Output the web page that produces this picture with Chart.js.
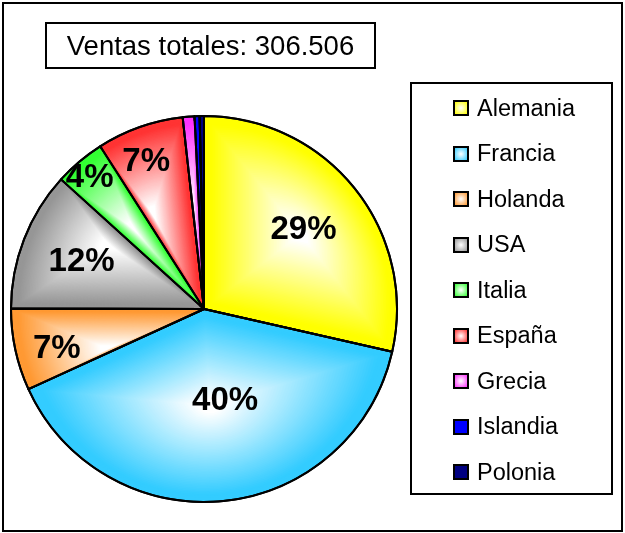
<!DOCTYPE html>
<html>
<head>
<meta charset="utf-8">
<script src="https://cdn.jsdelivr.net/npm/chart.js@4/dist/chart.umd.min.js"></script>
<style>
    body { margin: 0; background: #fff; font-family: "Liberation Sans", Arial, sans-serif; }
    #wrap { position: relative; width: 625px; height: 533px; overflow: hidden; }
    #frame { position: absolute; left: 2px; top: 2px; width: 621px; height: 530px; box-sizing: border-box; border: 2px solid #000; }
    #pie { position: absolute; left: 0; top: 0; }
    #title { position: absolute; left: 45px; top: 22px; width: 331px; height: 47px; box-sizing: border-box; border: 2px solid #000;
             display: flex; align-items: center; justify-content: center; font-size: 27.5px; color: #000; }
    #legend { position: absolute; left: 410px; top: 82px; width: 203px; height: 413px; box-sizing: border-box; border: 2px solid #000; }
    .item { position: absolute; left: 41px; height: 26px; display: flex; align-items: center; font-size: 23.5px; color: #000; }
    .swatch { width: 16px; height: 16px; box-sizing: border-box; border: 2px solid #000; margin-right: 8px; }
</style>
</head>
<body>
<div id="wrap">
    <div id="frame"></div>
    <canvas id="pie" width="625" height="533"></canvas>
    <div id="title"></div>
    <div id="legend"></div>
</div>
<script>
// ventas por pais
const paises = ['Alemania', 'Francia', 'Holanda', 'USA', 'Italia', 'España', 'Grecia', 'Islandia', 'Polonia'];
const ventas = [87500, 121500, 21000, 35800, 13000, 22300, 3000, 1300, 1106];
const colores = ['#ffff00', '#33ccff', '#ff9933', '#969696', '#33ff33', '#ff3333', '#ff33ff', '#0000ff', '#000080'];
const degradado = [true, true, true, true, true, true, true, false, false];

const total = ventas.reduce((a, b) => a + b, 0);

// donde va cada etiqueta: fraccion del radio y desplazamiento de angulo (grados)
const labelPos = [[0.66, 0], [0.49, -7], [0.79, -3], [0.68, 0], [0.9, -1], [0.82, -2]];

document.getElementById('title').textContent = 'Ventas totales: ' + total.toLocaleString('es-ES').replace(/\s/g, '.');

// leyenda
const legend = document.getElementById('legend');
paises.forEach((p, i) => {
    const bg = degradado[i] ? `radial-gradient(circle, #fff 0%, ${colores[i]} 100%)` : colores[i];
    legend.insertAdjacentHTML('beforeend',
        `<div class="item" style="top:${107 - 82 - 14 + i * 45.5}px"><div class="swatch" style="background:${bg}"></div>${p}</div>`);
});

function hexRgb(h) {
    const n = parseInt(h.slice(1), 16);
    return [(n >> 16) & 255, (n >> 8) & 255, n & 255];
}

function slicePath(ctx, a) {
    ctx.beginPath();
    ctx.moveTo(a.x, a.y);
    ctx.arc(a.x, a.y, a.outerRadius, a.startAngle, a.endAngle);
    ctx.closePath();
}

function sliceBoxCenter(a) {
    const pts = [[a.x, a.y]];
    const add = t => pts.push([a.x + a.outerRadius * Math.cos(t), a.y + a.outerRadius * Math.sin(t)]);
    add(a.startAngle);
    add(a.endAngle);
    for (let k = -4; k <= 8; k++) {
        const t = k * Math.PI / 2;
        if (t > a.startAngle && t < a.endAngle) add(t);
    }
    const xs = pts.map(p => p[0]), ys = pts.map(p => p[1]);
    return [(Math.min(...xs) + Math.max(...xs)) / 2, (Math.min(...ys) + Math.max(...ys)) / 2];
}

// relleno "desde el centro" como en Excel
const gradientFill = {
    id: 'gradientFill',
    afterDatasetsDraw(chart) {
        const ctx = chart.ctx;
        const meta = chart.getDatasetMeta(0);
        meta.data.forEach((arc, i) => {
            const a = arc.getProps(['x', 'y', 'startAngle', 'endAngle', 'outerRadius']);
            if (degradado[i]) {
                const [cx, cy] = sliceBoxCenter(a);
                const rgb = hexRgb(colores[i]);
                const steps = 60;
                for (let k = 1; k <= steps; k++) {
                    const s = 0.97 * (1 - k / steps);
                    const t = Math.max(0, Math.min(1, (s - 0.08) / 0.85));
                    const c = rgb.map(v => Math.round(255 + (v - 255) * t));
                    ctx.save();
                    ctx.translate(cx, cy);
                    ctx.scale(s, s);
                    ctx.translate(-cx, -cy);
                    slicePath(ctx, a);
                    ctx.fillStyle = `rgb(${c.join(',')})`;
                    ctx.fill();
                    ctx.restore();
                }
            }
        });
        // bordes
        ctx.save();
        ctx.strokeStyle = '#000';
        ctx.lineWidth = 2;
        ctx.lineJoin = 'round';
        meta.data.forEach(arc => {
            slicePath(ctx, arc.getProps(['x', 'y', 'startAngle', 'endAngle', 'outerRadius']));
            ctx.stroke();
        });
        ctx.restore();
    }
};

const pctLabels = {
    id: 'pctLabels',
    afterDatasetsDraw(chart) {
        const ctx = chart.ctx;
        const meta = chart.getDatasetMeta(0);
        ctx.save();
        ctx.font = 'bold 33px "Liberation Sans", Arial, sans-serif';
        ctx.fillStyle = '#000';
        ctx.textAlign = 'center';
        ctx.textBaseline = 'middle';
        meta.data.forEach((arc, i) => {
            const pct = Math.round(ventas[i] / total * 100);
            if (pct < 2 || !labelPos[i]) return;
            const a = arc.getProps(['x', 'y', 'startAngle', 'endAngle', 'outerRadius']);
            const mid = (a.startAngle + a.endAngle) / 2 + labelPos[i][1] * Math.PI / 180;
            const r = a.outerRadius * labelPos[i][0];
            ctx.fillText(pct + '%', a.x + r * Math.cos(mid), a.y + r * Math.sin(mid));
        });
        ctx.restore();
    }
};

new Chart(document.getElementById('pie'), {
    type: 'pie',
    data: {
        labels: paises,
        datasets: [{
            data: ventas,
            backgroundColor: colores,
            borderColor: '#000',
            borderWidth: 2
        }]
    },
    options: {
        responsive: false,
        animation: false,
        events: [],
        layout: { padding: { left: 10, top: 115, right: 227, bottom: 30 } },
        plugins: {
            legend: { display: false },
            tooltip: { enabled: false },
            title: { display: false }
        }
    },
    plugins: [gradientFill, pctLabels]
});
</script>
</body>
</html>
